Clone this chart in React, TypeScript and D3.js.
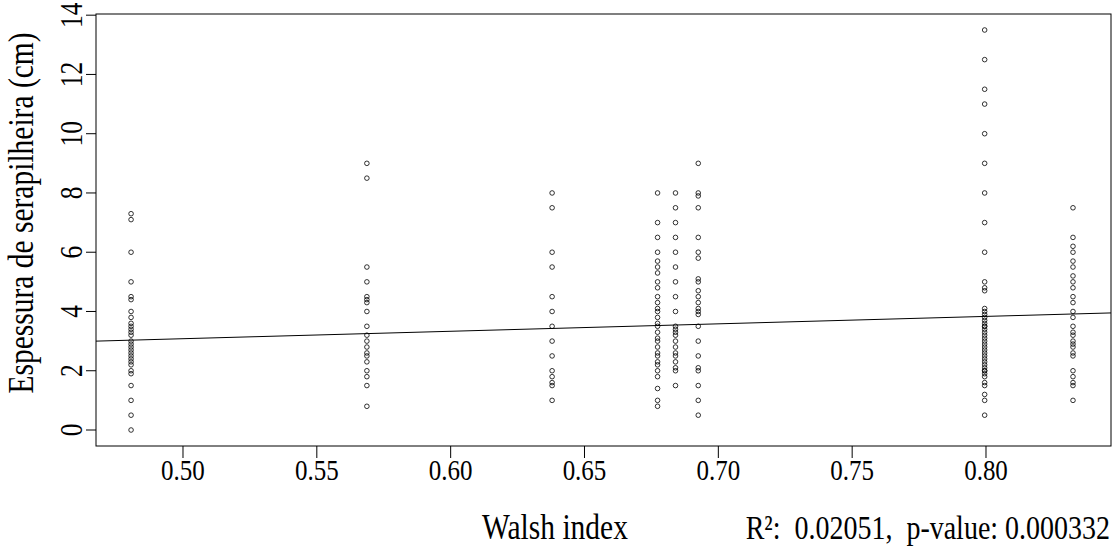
import React from "react";
import * as d3 from "d3";

const columnX = [0.4806, 0.5687, 0.6379, 0.6773, 0.684, 0.6925, 0.7995, 0.8325];

const col1 = [7.3, 7.1, 6.0, 5.0, 4.5, 4.4, 4.0, 3.8, 3.6, 3.5, 3.4, 3.3, 3.2, 3.0, 2.9, 2.8, 2.7, 2.6, 2.5, 2.4, 2.3, 2.2, 2.0, 1.9, 1.5, 1.0, 0.5, 0.0];
const col2 = [9.0, 8.5, 5.5, 5.0, 4.5, 4.4, 4.3, 4.0, 3.5, 3.2, 3.0, 2.8, 2.6, 2.5, 2.3, 2.0, 1.8, 1.5, 0.8];
const col3 = [8.0, 7.5, 6.0, 5.5, 4.5, 4.0, 3.5, 3.0, 2.5, 2.0, 1.8, 1.6, 1.5, 1.0];
const col4 = [8.0, 7.0, 6.5, 6.0, 5.7, 5.5, 5.3, 5.0, 4.8, 4.5, 4.3, 4.1, 4.0, 3.8, 3.6, 3.5, 3.3, 3.1, 3.0, 2.8, 2.6, 2.5, 2.3, 2.2, 2.0, 1.8, 1.4, 1.0, 0.8];
const col5 = [8.0, 7.5, 7.0, 6.5, 6.0, 5.5, 5.0, 4.5, 4.0, 3.5, 3.4, 3.3, 3.2, 3.0, 2.8, 2.6, 2.5, 2.3, 2.1, 2.0, 1.5];
const col6 = [9.0, 8.0, 7.9, 7.5, 6.5, 6.0, 5.8, 5.1, 5.0, 4.7, 4.5, 4.3, 4.1, 4.0, 3.9, 3.5, 3.0, 2.5, 2.1, 2.0, 1.5, 1.0, 0.5];
const col7 = [13.5, 12.5, 11.5, 11.0, 10.0, 9.0, 8.0, 7.0, 6.0, 5.0, 4.8, 4.7, 4.1, 4.0, 3.9, 3.8, 3.7, 3.6, 3.5, 3.5, 3.4, 3.3, 3.2, 3.1, 3.0, 2.9, 2.8, 2.7, 2.6, 2.5, 2.4, 2.3, 2.2, 2.1, 2.0, 2.0, 1.9, 1.8, 1.6, 1.5, 1.2, 1.0, 0.5];
const col8 = [7.5, 6.5, 6.2, 6.0, 5.7, 5.5, 5.2, 5.0, 4.8, 4.5, 4.3, 4.0, 3.8, 3.5, 3.3, 3.2, 3.0, 2.9, 2.8, 2.6, 2.5, 2.0, 1.8, 1.6, 1.5, 1.0];
const columnValues = [col1, col2, col3, col4, col5, col6, col7, col8];

const xTicks = [0.5, 0.55, 0.6, 0.65, 0.7, 0.75, 0.8];
const yTicks = [0, 2, 4, 6, 8, 10, 12, 14];

const intercept = 1.826;
const slope = 2.51;

const xLabel = "Walsh index";
const yLabel = "Espessura de serapilheira (cm)";
const statsLabel = "R²:  0.02051,  p-value: 0.000332";

export default function App() {
  const W = 1114, H = 546;
  const left = 96, right = 1111, top = 14, bottom = 446;
  const x = d3.scaleLinear().domain([0.4675, 0.8467]).range([left, right]);
  const y = d3.scaleLinear().domain([-0.54, 14.04]).range([bottom, top]);
  const font = "'Liberation Serif', 'Times New Roman', serif";
  const sy = 1.2;

  const points: { px: number; py: number }[] = [];
  columnValues.forEach((vals, i) => {
    vals.forEach((v) => points.push({ px: x(columnX[i]), py: y(v) }));
  });

  const [x0, x1] = x.domain();
  const line = d3.line<number>().x((d) => x(d)).y((d) => y(intercept + slope * d));

  return (
    <svg width={W} height={H} style={{ position: "absolute", left: 0, top: 0, background: "#fff" }}>
      <defs>
        <clipPath id="plotclip">
          <rect x={left} y={top} width={right - left} height={bottom - top} />
        </clipPath>
      </defs>
      <rect x={left} y={top} width={right - left} height={bottom - top} fill="none" stroke="#000" strokeWidth={1} />
      {points.map((p, i) => (
        <circle key={i} cx={p.px} cy={p.py} r={2.3} fill="none" stroke="#000" strokeWidth={0.8} />
      ))}
      <path d={line([x0, x1]) || ""} stroke="#000" strokeWidth={1} fill="none" clipPath="url(#plotclip)" />
      {xTicks.map((t) => (
        <g key={t}>
          <line x1={x(t)} x2={x(t)} y1={bottom} y2={bottom + 12} stroke="#000" />
          <text transform={`translate(${x(t)}, 480) scale(1, ${sy})`} textAnchor="middle" fontFamily={font} fontSize={25}>
            {t.toFixed(2)}
          </text>
        </g>
      ))}
      {yTicks.map((t) => (
        <g key={t}>
          <line x1={left - 10} x2={left} y1={y(t)} y2={y(t)} stroke="#000" />
          <text transform={`translate(82, ${y(t)}) rotate(-90) scale(1, ${sy})`} textAnchor="middle" fontFamily={font} fontSize={25.5}>
            {t}
          </text>
        </g>
      ))}
      <text transform={`translate(33, ${(top + bottom) / 2 - 17}) rotate(-90) scale(1, ${sy})`} textAnchor="middle" fontFamily={font} fontSize={29.5}>
        {yLabel}
      </text>
      <text transform={`translate(555, 539) scale(1, ${sy})`} textAnchor="middle" fontFamily={font} fontSize={29.5}>
        {xLabel}
      </text>
      <text transform={`translate(1110, 539) scale(1, ${sy})`} textAnchor="end" fontFamily={font} fontSize={28} style={{ whiteSpace: "pre" }}>
        {statsLabel}
      </text>
    </svg>
  );
}
